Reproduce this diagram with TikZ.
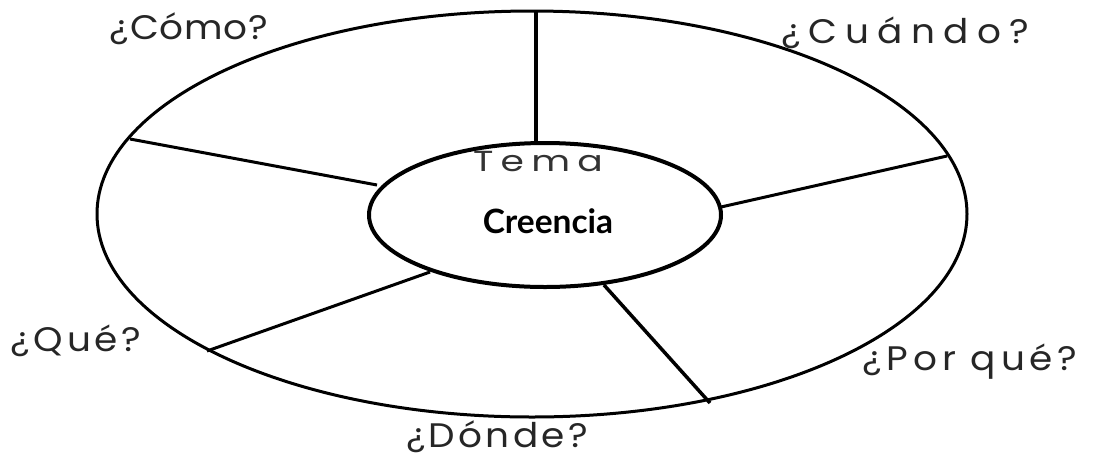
\documentclass[tikz,border=0pt]{standalone}
\usepackage{fontspec}
\setmainfont{Poppins}
\newfontfamily\handfont{Poppins}
\newfontfamily\boldfont{Lato}
\usetikzlibrary{shapes.geometric}
\newcommand{\spaced}[2]{{\addfontfeature{LetterSpace=#1}#2}}
\begin{document}
\begin{tikzpicture}[x=1pt,y=-1pt,
  hub/.style={ellipse, draw=black, line width=4pt, minimum width=352pt, minimum height=144pt, inner sep=0pt},
  rim/.style={ellipse, draw=black, line width=3pt, minimum width=870pt, minimum height=406pt, inner sep=0pt},
  spoke/.style={draw=black, line width=3pt},
  qlabel/.style={font=\handfont\fontsize{34}{34}\selectfont, text=black!85, inner sep=0pt, xscale=1.1},
  temalabel/.style={font=\handfont\fontsize{29}{29}\selectfont, text=black!80, inner sep=0pt, xscale=1.3},
  mainlabel/.style={font=\boldfont\bfseries\fontsize{33.5}{33.5}\selectfont, inner sep=0pt}]
\useasboundingbox[fill=white] (0,0) rectangle (1093,459);
% outer ring
\node[rim] (outer) at (532,214) {};
% hub
\node[hub] (hub) at (545,215) {};
% spoke end points
\coordinate (o1) at (536,10);
\coordinate (i1) at (536,142);
\coordinate (o2) at (130,139);
\coordinate (i2) at (377,185);
\coordinate (o3) at (947,156);
\coordinate (i3) at (721,207);
\coordinate (o4) at (207,351);
\coordinate (i4) at (430,272);
\coordinate (o5) at (710,403);
\coordinate (i5) at (604,285);
\draw[spoke, line width=4pt] (o1) -- (i1);
\draw[spoke] (o2) -- (i2);
\draw[spoke] (o3) -- (i3);
\draw[spoke] (o4) -- (i4);
\draw[spoke, line width=3.5pt] (o5) -- (i5);
% labels
\node[qlabel] (como) at (189,29) {\spaced{2}{¿Cómo?}};
\node[qlabel] (cuando) at (905,33) {\spaced{22}{¿Cuándo?}};
\node[qlabel] (que) at (76,341) {\spaced{10}{¿Qué?}};
\node[qlabel] (porque) at (970,362) {\spaced{13}{¿Por qué?}};
\node[qlabel] (donde) at (497,437) {\spaced{9}{¿Dónde?}};
\node[temalabel] (tema) at (538,162) {\spaced{19}{Tema}};
\node[mainlabel] (creencia) at (548,221) {Creencia};
\end{tikzpicture}
\end{document}
